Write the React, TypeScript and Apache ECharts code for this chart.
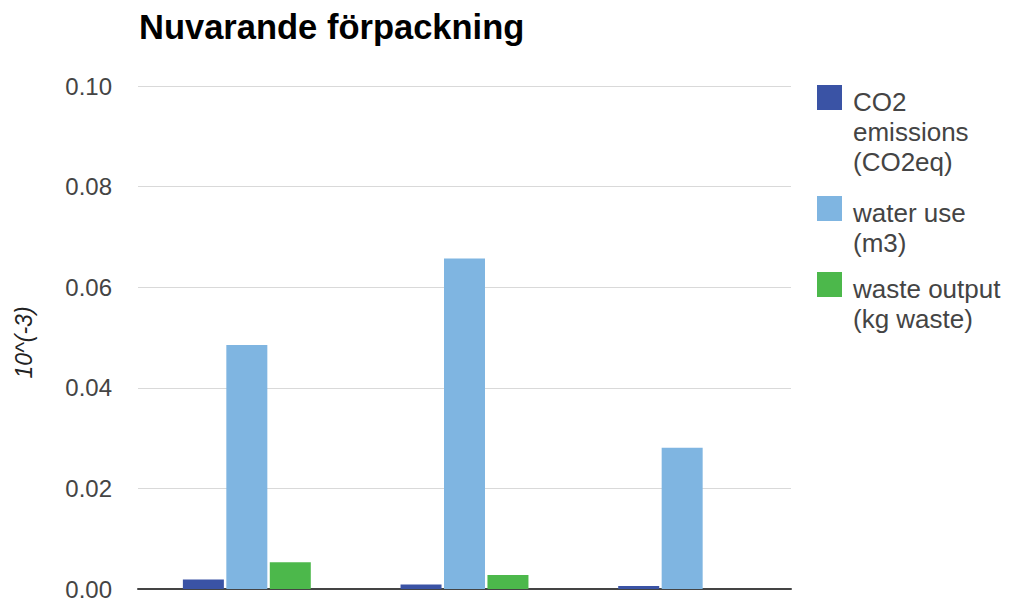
import React, { useEffect, useRef } from "react";
import * as echarts from "echarts";

const titleText = "Nuvarande förpackning";
const categories = ["1", "2", "3"];
const seriesNames = ["CO2 emissions (CO2eq)", "water use (m3)", "waste output (kg waste)"];
const legendLabels = ["CO2\nemissions\n(CO2eq)", "water use\n(m3)", "waste output\n(kg waste)"];
const co2Values = [0.0019, 0.0009, 0.0006];
const waterValues = [0.0485, 0.0657, 0.0281];
const wasteValues = [0.0053, 0.0028, 0];
const yAxisName = "10^(-3)";
const yMin = 0;
const yMax = 0.1;
const yStep = 0.02;

const colors = ["#3a53a5", "#7fb5e1", "#4cb84b"];
const FONT = "'Liberation Sans', Arial, sans-serif";

export default function App() {
  const ref = useRef<HTMLDivElement>(null);
  useEffect(() => {
    if (!ref.current) return;
    const chart = echarts.init(ref.current, undefined, { renderer: "svg" });
    const values = [co2Values, waterValues, wasteValues];
    const LINE_H = 30;
    const ICON_W = 31;
    const legendTops = [85, 196, 272];
    const legends = seriesNames.map((name, i) => {
      const lines = legendLabels[i].split("\n").length;
      const h = 33 + 2 * 15 * (lines - 1);
      return {
        orient: "vertical",
        left: 817,
        top: legendTops[i],
        padding: 0,
        itemWidth: ICON_W,
        itemHeight: h,
        selectedMode: false,
        textStyle: { fontSize: 26, lineHeight: LINE_H, color: "#444", fontFamily: FONT },
        formatter: () => legendLabels[i],
        data: [{ name, icon: `path://M0,0H25V25H0Z M${ICON_W},${h}L${ICON_W - 0.01},${h}Z` }],
      };
    });
    chart.setOption({
      animation: false,
      backgroundColor: "#ffffff",
      textStyle: { fontFamily: FONT },
      title: {
        text: titleText,
        left: 139,
        top: 9,
        padding: 0,
        textStyle: { fontSize: 34.5, fontWeight: "bold", color: "#000", fontFamily: FONT },
      },
      legend: legends,
      grid: { left: 138, right: 221, top: 86, bottom: 12, containLabel: false },
      xAxis: {
        type: "category",
        data: categories,
        axisLine: { show: true, lineStyle: { color: "#444", width: 2 } },
        axisTick: { show: false },
        axisLabel: { show: false },
        splitLine: { show: false },
      },
      yAxis: {
        type: "value",
        min: yMin,
        max: yMax,
        interval: yStep,
        name: yAxisName,
        nameLocation: "middle",
        nameGap: 103,
        nameRotate: 90,
        nameTextStyle: {
          fontSize: 23,
          fontStyle: "italic",
          color: "#222",
          fontFamily: FONT,
          padding: [0, 10, 0, 0],
        },
        axisLine: { show: false },
        axisTick: { show: false },
        axisLabel: {
          margin: 26,
          fontSize: 24,
          color: "#444",
          fontFamily: FONT,
          formatter: (v: number) => v.toFixed(2),
        },
        splitLine: { lineStyle: { color: "#d9d9d9", width: 1 } },
      },
      series: seriesNames.map((name, i) => ({
        name,
        type: "bar",
        data: values[i],
        barWidth: 41,
        barGap: "6%",
        itemStyle: { color: colors[i] },
      })),
    });
    return () => chart.dispose();
  }, []);
  return (
    <div
      ref={ref}
      style={{ position: "fixed", left: 0, top: 0, width: 1012, height: 601 }}
    />
  );
}
